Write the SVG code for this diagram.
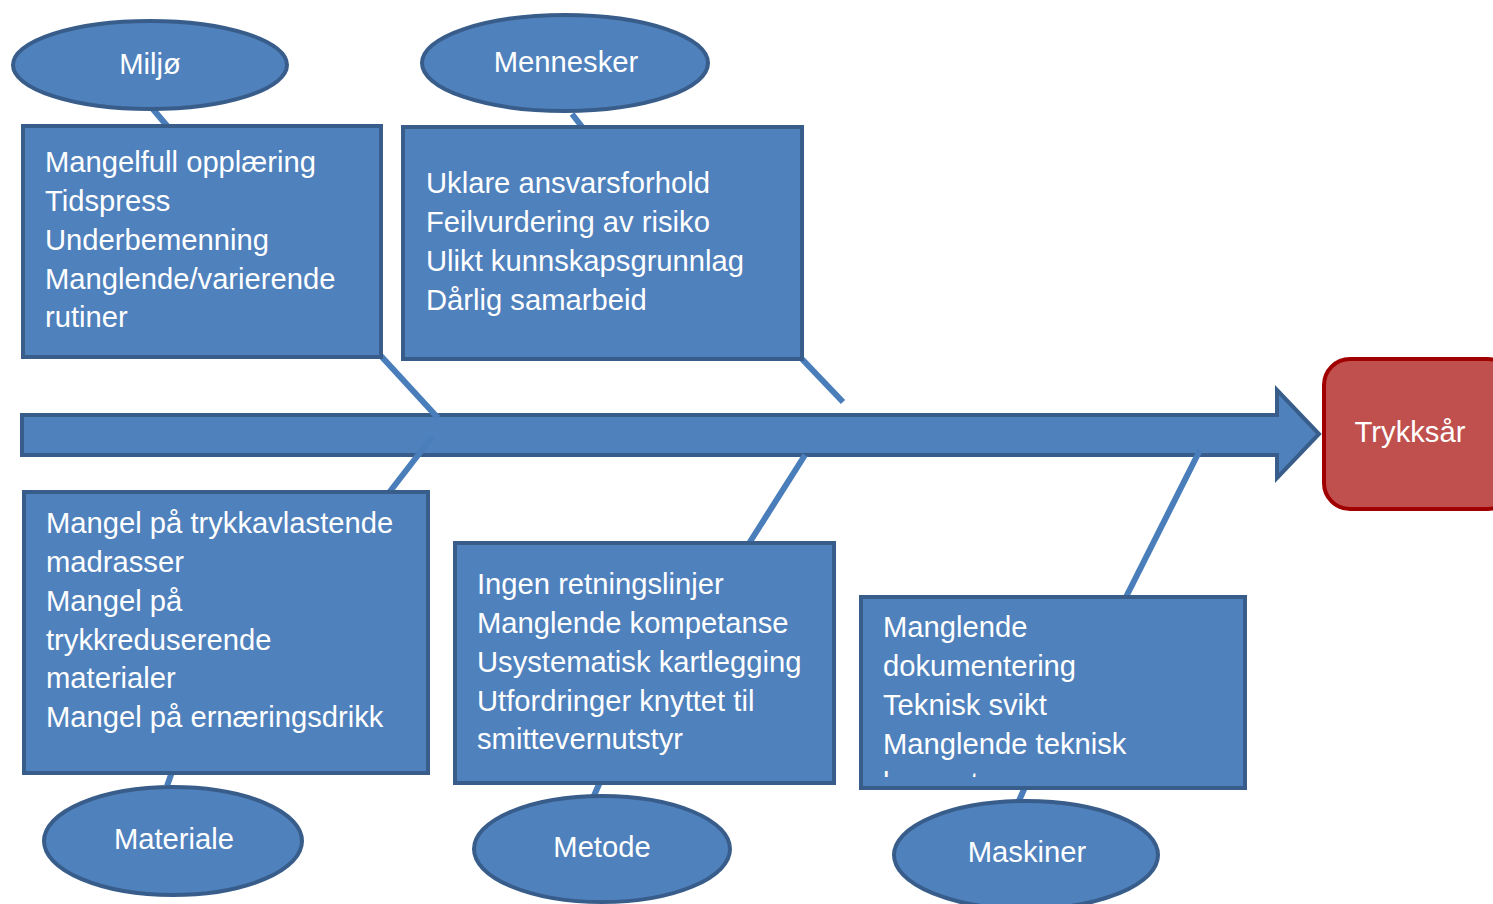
<svg xmlns="http://www.w3.org/2000/svg" width="1493" height="904" viewBox="0 0 1493 904">
<style>
.box{fill:#4F81BD;stroke:#385D8A;stroke-width:4}
.ell{fill:#4F81BD;stroke:#385D8A;stroke-width:4}
.con{stroke:#4A7EBB;stroke-width:6;fill:none}
.t{font-family:"Liberation Sans",Arial,sans-serif;font-size:29.2px;fill:#FFFFFF}
.c{text-anchor:middle}
</style>
<defs>
<clipPath id="clipMask"><rect x="861" y="597" width="384" height="180"/></clipPath>
</defs>
<rect width="1493" height="904" fill="#FFFFFF"/>
<g id="spine">
<polygon points="22,415 1277,415 1277,390 1319,434 1277,478 1277,455 22,455" fill="#4F81BD" stroke="#385D8A" stroke-width="4"/>
</g>
<g id="connectors">
<line class="con" x1="152" y1="108" x2="168" y2="127"/>
<line class="con" x1="572" y1="114" x2="583" y2="128"/>
<line class="con" x1="381" y1="356" x2="438" y2="418"/>
<line class="con" x1="801" y1="358" x2="843" y2="402"/>
<line class="con" x1="432" y1="437" x2="388" y2="494"/>
<line class="con" x1="805" y1="455" x2="748" y2="545"/>
<line class="con" x1="1200" y1="450" x2="1125" y2="599"/>
<line class="con" x1="172" y1="772" x2="167" y2="786"/>
<line class="con" x1="600" y1="782" x2="593" y2="798"/>
<line class="con" x1="1025" y1="787" x2="1018" y2="803"/>
</g>
<g id="miljo">
<ellipse class="ell" cx="150" cy="65" rx="137" ry="44"/>
<text class="t c" x="150" y="74">Miljø</text>
</g>
<g id="mennesker">
<ellipse class="ell" cx="565" cy="63" rx="143" ry="48"/>
<text class="t c" x="566" y="72">Mennesker</text>
</g>
<g id="box-miljo">
<rect class="box" x="23" y="126" width="358" height="231"/>
<text class="t" x="45" y="172">Mangelfull opplæring</text>
<text class="t" x="45" y="211">Tidspress</text>
<text class="t" x="45" y="250">Underbemenning</text>
<text class="t" x="45" y="289">Manglende/varierende</text>
<text class="t" x="45" y="327">rutiner</text>
</g>
<g id="box-mennesker">
<rect class="box" x="403" y="127" width="399" height="232"/>
<text class="t" x="426" y="193">Uklare ansvarsforhold</text>
<text class="t" x="426" y="232">Feilvurdering av risiko</text>
<text class="t" x="426" y="271">Ulikt kunnskapsgrunnlag</text>
<text class="t" x="426" y="310">Dårlig samarbeid</text>
</g>
<g id="trykksar">
<rect x="1324" y="359" width="190" height="150" rx="26" ry="26" fill="#C0504D" stroke="#A00000" stroke-width="4"/>
<text class="t c" x="1410" y="442">Trykksår</text>
</g>
<g id="box-materiale">
<rect class="box" x="24" y="492" width="404" height="281"/>
<text class="t" x="46" y="533">Mangel på trykkavlastende</text>
<text class="t" x="46" y="572">madrasser</text>
<text class="t" x="46" y="611">Mangel på</text>
<text class="t" x="46" y="650">trykkreduserende</text>
<text class="t" x="46" y="688">materialer</text>
<text class="t" x="46" y="727">Mangel på ernæringsdrikk</text>
</g>
<g id="box-metode">
<rect class="box" x="455" y="543" width="379" height="240"/>
<text class="t" x="477" y="594">Ingen retningslinjer</text>
<text class="t" x="477" y="633">Manglende kompetanse</text>
<text class="t" x="477" y="672">Usystematisk kartlegging</text>
<text class="t" x="477" y="711">Utfordringer knyttet til</text>
<text class="t" x="477" y="749">smittevernutstyr</text>
</g>
<g id="box-maskiner">
<rect class="box" x="861" y="597" width="384" height="191"/>
<g clip-path="url(#clipMask)">
<text class="t" x="883" y="637">Manglende</text>
<text class="t" x="883" y="676">dokumentering</text>
<text class="t" x="883" y="715">Teknisk svikt</text>
<text class="t" x="883" y="754">Manglende teknisk</text>
<text class="t" x="883" y="793">kompetanse</text>
</g>
</g>
<g id="materiale">
<ellipse class="ell" cx="173" cy="841" rx="129" ry="54"/>
<text class="t c" x="174" y="849">Materiale</text>
</g>
<g id="metode">
<ellipse class="ell" cx="602" cy="849" rx="128" ry="53"/>
<text class="t c" x="602" y="857">Metode</text>
</g>
<g id="maskiner">
<ellipse class="ell" cx="1026" cy="855" rx="132" ry="54"/>
<text class="t c" x="1027" y="862">Maskiner</text>
</g>
</svg>
